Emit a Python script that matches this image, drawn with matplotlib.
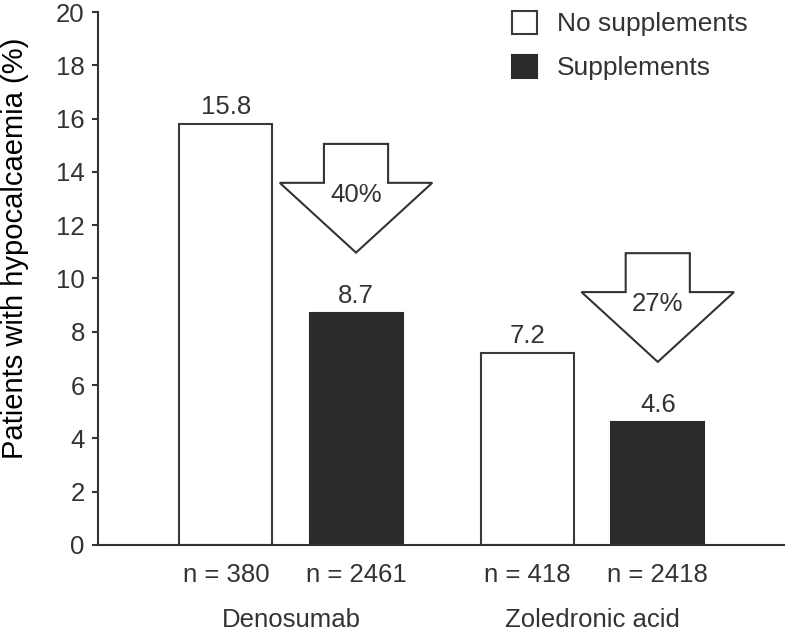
import matplotlib.pyplot as plt
from matplotlib.patches import Patch, Polygon

plt.rcParams['font.family'] = ['Liberation Sans', 'DejaVu Sans']
plt.rcParams['text.color'] = '#333333'

# data
drugs = ["Denosumab", "Zoledronic acid"]
no_supp = [15.8, 7.2]
supp = [8.7, 4.6]
n_no_supp = [380, 418]
n_supp = [2461, 2418]
reduction = ["40%", "27%"]

dark = '#2b2b2b'
edge = '#3a3a3a'
fs = 18.5

fig = plt.figure(figsize=(7.87, 6.32), dpi=100)
ax = fig.add_axes([0.1245, 0.1377, 0.8715, 0.8433])

centers = [2.075, 5.32]
off = 0.7
w = 1.0
x_no = [c - off for c in centers]
x_su = [c + off for c in centers]

ax.bar(x_no, no_supp, width=w, color='white', edgecolor=edge, linewidth=1.5, zorder=2)
ax.bar(x_su, supp, width=w, color=dark, edgecolor=dark, linewidth=1.5, zorder=2)

# value labels
for x, v in zip(x_no + x_su, no_supp + supp):
    ax.annotate(f"{v}", (x, v), xytext=(0, 7.5), textcoords='offset points',
                ha='center', va='baseline', fontsize=fs)

# down arrows over the supplement bars
for x, v, lab in zip(x_su, supp, reduction):
    top = v + 6.35
    shoulder = top - 1.46
    tip = top - 4.08
    pts = [(x - 0.345, top), (x + 0.345, top), (x + 0.345, shoulder),
           (x + 0.82, shoulder), (x, tip), (x - 0.82, shoulder),
           (x - 0.345, shoulder)]
    ax.add_patch(Polygon(pts, closed=True, facecolor='white', edgecolor='#333333',
                         linewidth=1.5, zorder=3))
    ax.text(x, top - 1.9, lab, ha='center', va='center', fontsize=fs, zorder=4)

ax.set_xlim(0, 7.376)
ax.set_ylim(0, 20)
ax.set_yticks(range(0, 21, 2))
ax.tick_params(axis='y', labelsize=fs, length=4.5, width=1.5, pad=5, colors='#333333')

ticks = []
labels = []
for i in range(2):
    ticks += [x_no[i], x_su[i]]
    labels += [f"n = {n_no_supp[i]}", f"n = {n_supp[i]}"]
ax.set_xticks(ticks)
ax.set_xticklabels(labels)
ax.tick_params(axis='x', labelsize=fs, length=0, pad=13, colors='#333333')

for c, d in zip(centers, drugs):
    ax.text(c, -0.154, d, transform=ax.get_xaxis_transform(), ha='center',
            va='baseline', fontsize=fs)

for s in ['top', 'right']:
    ax.spines[s].set_visible(False)
for s in ['left', 'bottom']:
    ax.spines[s].set_linewidth(1.5)
    ax.spines[s].set_color('#333333')

ax.set_ylabel("Patients with hypocalcaemia (%)", fontsize=21)
ax.yaxis.set_label_coords(-0.1, 0.557)

handles = [Patch(facecolor='white', edgecolor=edge, linewidth=1.5, label='No supplements'),
           Patch(facecolor=dark, edgecolor=dark, linewidth=1.5, label='Supplements')]
ax.legend(handles=handles, loc='upper right', frameon=False, fontsize=19,
          handlelength=0.95, handleheight=0.95, handletextpad=0.75, labelspacing=0.7,
          bbox_to_anchor=(0.9475, 1.002), borderaxespad=0, borderpad=0)

fig.savefig("out.png", dpi=100)
